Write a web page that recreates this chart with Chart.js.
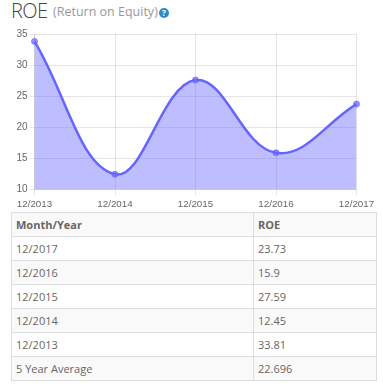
<!DOCTYPE html>
<html>
<head>
<meta charset="utf-8">
<script src="https://cdn.jsdelivr.net/npm/chart.js@4"></script>
<style>
    body { margin: 0; background: #fff; font-family: "Open Sans", sans-serif; color: #666; overflow: hidden; }
    #titulo { position: absolute; left: 11px; top: -4px; font-size: 20px; font-weight: 300; letter-spacing: -0.6px; line-height: 30px; color: #444; white-space: nowrap; }
    #titulo small { position: absolute; left: 42px; top: 1px; font-size: 12.5px; font-weight: 400; letter-spacing: 0; color: #999; }
    #ajuda { position: absolute; left: 159px; top: 8px; width: 10px; height: 10px; border-radius: 50%; background: #2b8cc4; color: #fff; font-size: 8px; font-weight: bold; line-height: 10px; text-align: center; }
    #area { position: absolute; left: 0; top: 0; width: 383px; height: 212px; }
    table { position: absolute; left: 11px; top: 212px; width: 366px; border-collapse: collapse; font-size: 11px; table-layout: fixed; }
    td, th { border: 1px solid #ddd; height: 23px; padding: 0 4px; text-align: left; }
    th { font-weight: bold; background: #f9f9f9; }
    tbody tr:nth-child(odd) td { background: #fff; }
    tbody tr:nth-child(even) td { background: #f9f9f9; }
    .c1 { width: 233px; }
</style>
</head>
<body>
<div id="titulo">ROE <small>(Return on Equity)</small></div>
<div id="ajuda">?</div>
<div id="area"><canvas id="graficoROE"></canvas></div>
<table>
    <thead><tr><th class="c1">Month/Year</th><th>ROE</th></tr></thead>
    <tbody id="linhas"></tbody>
</table>
<script>
const anos = ['12/2013', '12/2014', '12/2015', '12/2016', '12/2017'];
const valoresROE = [33.81, 12.45, 27.59, 15.9, 23.73];
const ticksY = [10, 15, 20, 25, 30, 35];
const rotuloMedia = '5 Year Average';
const textoMedia = '22.696';

const linhas = document.getElementById('linhas');

// tabela vai do ano mais recente para o mais antigo
for (let i = anos.length - 1; i >= 0; i--) {
    const tr = document.createElement('tr');
    tr.innerHTML = `<td>${anos[i]}</td><td>${valoresROE[i]}</td>`;
    linhas.appendChild(tr);
}

const trMedia = document.createElement('tr');
trMedia.innerHTML = `<td>${rotuloMedia}</td><td>${textoMedia}</td>`;
linhas.appendChild(trMedia);

new Chart(document.getElementById('graficoROE'), {
    type: 'line',
    data: {
        labels: anos,
        datasets: [{
            data: valoresROE,
            borderColor: '#6666ff',
            borderWidth: 2.5,
            backgroundColor: 'rgba(102,102,255,0.43)',
            fill: true,
            tension: 0.4,
            pointRadius: 3,
            pointBackgroundColor: 'rgba(102,102,255,0.7)',
            pointBorderColor: 'rgba(102,102,255,0.7)',
            pointBorderWidth: 1
        }]
    },
    options: {
        responsive: true,
        maintainAspectRatio: false,
        animation: false,
        layout: { padding: { left: 0, right: 26.5, top: 34, bottom: 0 } },
        plugins: { legend: { display: false }, tooltip: { enabled: false } },
        scales: {
            x: {
                offset: false,
                grid: { color: 'rgba(0,0,0,0.1)', drawTicks: true, tickLength: 6 },
                border: { color: 'rgba(0,0,0,0.1)' },
                ticks: { color: '#666', font: { family: '"Liberation Sans", Arial', size: 9.8 }, maxRotation: 0, autoSkip: false, padding: 3, align: 'center' },
                afterFit: function (escala) { escala.height = 22.5; }
            },
            y: {
                min: 10,
                max: 35,
                grid: { color: 'rgba(0,0,0,0.1)', tickLength: 5 },
                border: { color: 'rgba(0,0,0,0.1)' },
                afterBuildTicks: function (escala) { escala.ticks = ticksY.map(v => ({ value: v })); },
                ticks: { color: '#666', font: { family: '"Liberation Sans", Arial', size: 10 }, padding: 2 },
                afterFit: function (escala) { escala.width = 34.5; }
            }
        }
    }
});
</script>
</body>
</html>
